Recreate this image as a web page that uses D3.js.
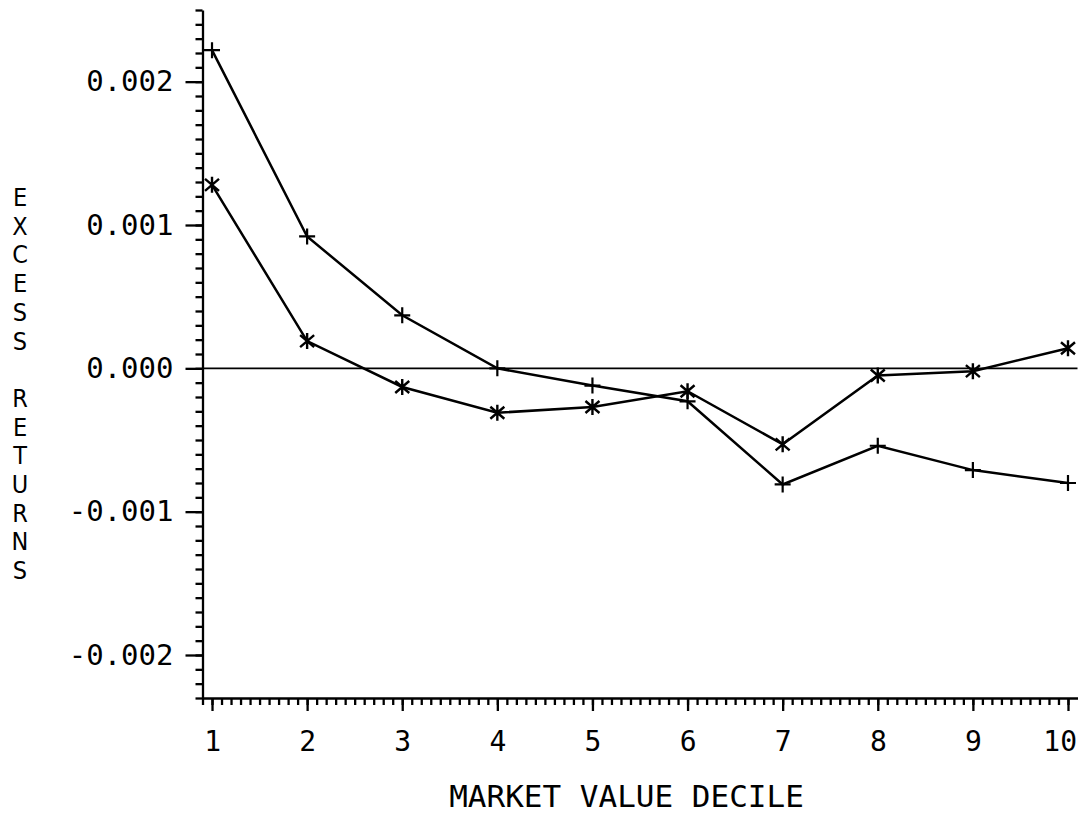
<!DOCTYPE html>
<html>
<head>
<meta charset="utf-8">
<script src="https://cdn.jsdelivr.net/npm/d3@7"></script>
<style>
  body { margin: 0; background: #fff; }
  text { font-family: "DejaVu Sans Mono", "Liberation Mono", monospace; fill: #000; }
  text.ylet { font-family: "Liberation Sans Narrow", "DejaVu Sans Condensed", "DejaVu Sans", sans-serif; }
  .axis path, .axis line { stroke: #000; stroke-width: 2.3; }
</style>
</head>
<body>
<div id="chart"></div>
<script>
// market value deciles
var deciles = [1, 2, 3, 4, 5, 6, 7, 8, 9, 10];
// series drawn with "+" markers
var plusSeries = [0.00222, 0.00092, 0.00037, 0.0, -0.00012, -0.00023, -0.00081, -0.00054, -0.00071, -0.00080];
// series drawn with "*" markers
var starSeries = [0.00128, 0.00019, -0.00013, -0.00031, -0.00027, -0.00016, -0.00053, -0.00005, -0.00002, 0.00014];

var yMajorTicks = [-0.002, -0.001, 0.0, 0.001, 0.002];
var yTickLabels = ["-0.002", "-0.001", "0.000", "0.001", "0.002"];
var xTickLabels = ["1", "2", "3", "4", "5", "6", "7", "8", "9", "10"];
var xTitle = "MARKET VALUE DECILE";
var yTitle = "EXCESS RETURNS";

var width = 1084, height = 817;

var x = d3.scaleLinear().domain([0.9, 10.1]).range([202.5, 1077.5]);
var y = d3.scaleLinear().domain([-0.0023, 0.0025]).range([698, 10]);

var svg = d3.select("#chart").append("svg")
    .attr("width", width)
    .attr("height", height);

// minor ticks every 0.0001 on y, every 0.1 on x
var yMinor = d3.range(-23, 26).map(function(d) { return d / 10000; });
var xMinor = d3.range(9, 101).map(function(d) { return d / 10; });

svg.append("g")
    .attr("class", "axis")
    .attr("transform", "translate(" + x(0.9) + ",0)")
    .call(d3.axisLeft(y).tickValues(yMinor).tickSize(7).tickSizeOuter(0).tickFormat(""));

svg.append("g")
    .attr("class", "axis")
    .attr("transform", "translate(" + x(0.9) + ",0)")
    .call(d3.axisLeft(y).tickValues(yMajorTicks).tickSize(17).tickSizeOuter(0).tickPadding(12)
      .tickFormat(function(d, i) { return yTickLabels[i]; }))
    .call(function(g) { g.select(".domain").remove(); })
    .selectAll("text")
      .style("font-size", "29px");

svg.append("g")
    .attr("class", "axis")
    .attr("transform", "translate(0," + y(-0.0023) + ")")
    .call(d3.axisBottom(x).tickValues(xMinor).tickSize(7).tickSizeOuter(0).tickFormat(""));

// decile labels: the last digit sits on the tick, as on the plotter original
svg.append("g")
    .attr("class", "axis")
    .attr("transform", "translate(0," + y(-0.0023) + ")")
    .call(d3.axisBottom(x).tickValues(deciles).tickSize(13).tickSizeOuter(0).tickPadding(20)
      .tickFormat(function(d, i) { return xTickLabels[i]; }))
    .call(function(g) { g.select(".domain").remove(); })
    .selectAll("text")
      .attr("text-anchor", "end")
      .attr("dx", 8.5)
      .style("font-size", "28px");

// zero line
svg.append("line")
    .attr("x1", x(0.9)).attr("x2", x(10.1))
    .attr("y1", y(0)).attr("y2", y(0))
    .style("stroke", "#000")
    .style("stroke-width", 1.7);

var line = d3.line()
    .x(function(d, i) { return x(deciles[i]); })
    .y(function(d) { return y(d); });

svg.append("path")
    .data([plusSeries])
    .style("stroke", "#000")
    .style("stroke-width", 2.5)
    .style("fill", "none")
    .attr("d", line);

svg.append("path")
    .data([starSeries])
    .style("stroke", "#000")
    .style("stroke-width", 2.5)
    .style("fill", "none")
    .attr("d", line);

// "+" markers
svg.selectAll(".plus")
    .data(plusSeries)
  .enter().append("path")
    .attr("class", "plus")
    .attr("transform", function(d, i) { return "translate(" + x(deciles[i]) + "," + y(d) + ")"; })
    .attr("d", "M-8,0H8M0,-8V8")
    .style("stroke", "#000")
    .style("stroke-width", 2.2);

// "*" markers
svg.selectAll(".star")
    .data(starSeries)
  .enter().append("path")
    .attr("class", "star")
    .attr("transform", function(d, i) { return "translate(" + x(deciles[i]) + "," + y(d) + ")"; })
    .attr("d", "M0,-8V8M-7,-6L7,6M-7,6L7,-6")
    .style("stroke", "#000")
    .style("stroke-width", 2.4);

// axis titles
svg.append("text")
    .attr("x", 626.5)
    .attr("y", 807)
    .attr("text-anchor", "middle")
    .style("font-size", "31px")
    .text(xTitle);

// y title: one letter per text, stacked like the plotter did it
var letters = yTitle.split("").map(function(c, i) { return {c: c, i: i}; })
    .filter(function(d) { return d.c != " "; });
svg.selectAll(".ylet")
    .data(letters)
  .enter().append("text")
    .attr("class", "ylet")
    .attr("text-anchor", "middle")
    .attr("x", 20)
    .attr("y", function(d) { return 206 + d.i * 28.7; })
    .style("font-size", "25px")
    .text(function(d) { return d.c; });
</script>
</body>
</html>
